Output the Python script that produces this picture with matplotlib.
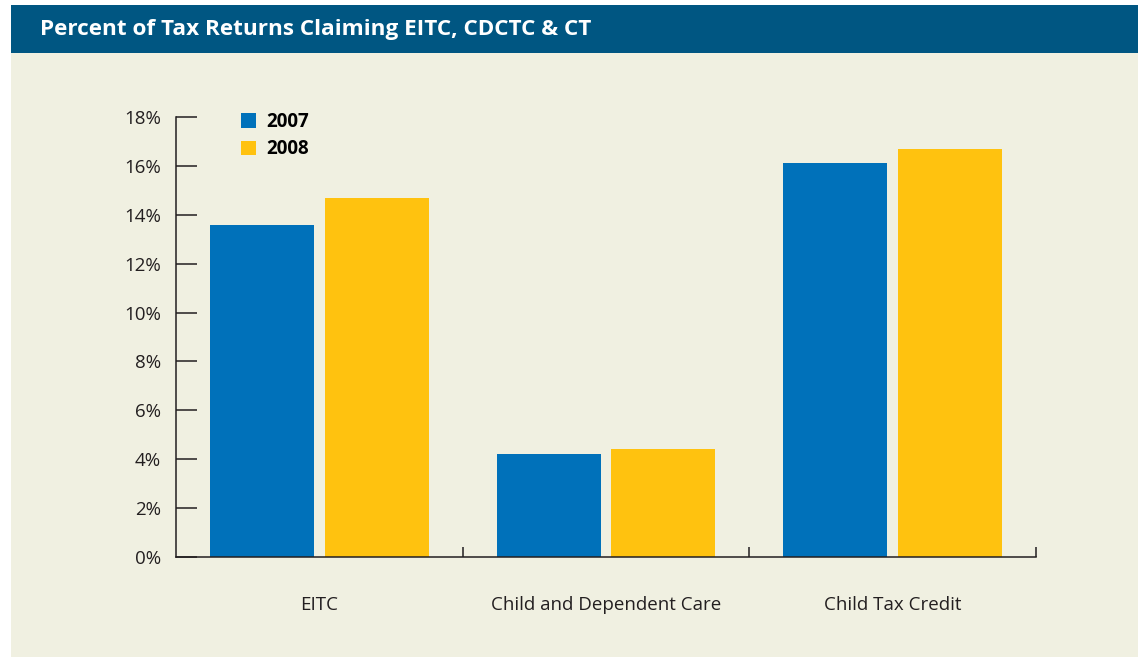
import matplotlib
matplotlib.use("Agg")
import matplotlib.pyplot as plt
import numpy as np
from matplotlib.patches import Rectangle, Patch
from matplotlib.ticker import FuncFormatter

categories = ["EITC", "Child and Dependent Care", "Child Tax Credit"]
series_names = ["2007", "2008"]
values_2007 = [13.6, 4.2, 16.1]
values_2008 = [14.7, 4.4, 16.7]
yticks = [0, 2, 4, 6, 8, 10, 12, 14, 16, 18]
title = "Percent of Tax Returns Claiming EITC, CDCTC & CT"

BLUE = "#0071BA"
YELLOW = "#FFC20F"
BG = "#F0F0E1"
HEADER = "#005682"
DARK = "#231F20"

plt.rcParams['font.family'] = ['Open Sans', 'DejaVu Sans']

W, H = 1138, 657
fig = plt.figure(figsize=(W / 100, H / 100), dpi=100)
fig.patch.set_facecolor("white")

# background panel and header band
fig.patches.append(Rectangle((11 / W, 0), 1 - 11 / W, 1 - 5 / H, transform=fig.transFigure,
                             facecolor=BG, edgecolor="none", zorder=-2))
fig.patches.append(Rectangle((11 / W, 1 - 53 / H), 1 - 11 / W, 48 / H, transform=fig.transFigure,
                             facecolor=HEADER, edgecolor="none", zorder=-1))
fig.text(40 / W, 1 - 30 / H, title, color="white", fontsize=16.2, fontweight="bold",
         va="center", ha="left")

left, right = 176 / W, 1036 / W
bottom, top = 1 - 557 / H, 1 - 117 / H
ax = fig.add_axes([left, bottom, right - left, top - bottom])
ax.set_facecolor("none")

x = np.arange(len(categories))
bw = 0.362
off = 0.2
ax.bar(x - off, values_2007, width=bw, color=BLUE, label=series_names[0], zorder=2)
ax.bar(x + off, values_2008, width=bw, color=YELLOW, label=series_names[1], zorder=2)

ax.set_xlim(-0.5, len(categories) - 0.5)
ax.set_ylim(0, 18)
ax.set_yticks(yticks)
ax.yaxis.set_major_formatter(FuncFormatter(lambda v, p: f"{int(v)}%"))
ax.tick_params(axis="y", direction="in", length=15, width=1.1, color=DARK,
               labelsize=13.5, labelcolor=DARK, pad=11)

ax.set_xticks(x)
ax.set_xticklabels(categories)
ax.set_xticks(np.arange(len(categories)) + 0.5, minor=True)
ax.tick_params(axis="x", which="major", length=0, labelsize=13.5, labelcolor=DARK, pad=28)
ax.tick_params(axis="x", which="minor", direction="in", length=7, width=1.1, color=DARK)

for s in ["top", "right"]:
    ax.spines[s].set_visible(False)
for s in ["left", "bottom"]:
    ax.spines[s].set_color(DARK)
    ax.spines[s].set_linewidth(1.1)

handles = [Patch(facecolor=BLUE, edgecolor="none"), Patch(facecolor=YELLOW, edgecolor="none")]
leg = ax.legend(handles, series_names, loc="upper left", bbox_to_anchor=(0.056, 1.05),
                frameon=False, handlelength=0.8, handleheight=0.8, handletextpad=0.55,
                labelspacing=0.4, prop={"weight": "bold", "size": 13.5})
for t in leg.get_texts():
    t.set_color("black")

fig.savefig("out.png", dpi=100, facecolor=fig.get_facecolor())
